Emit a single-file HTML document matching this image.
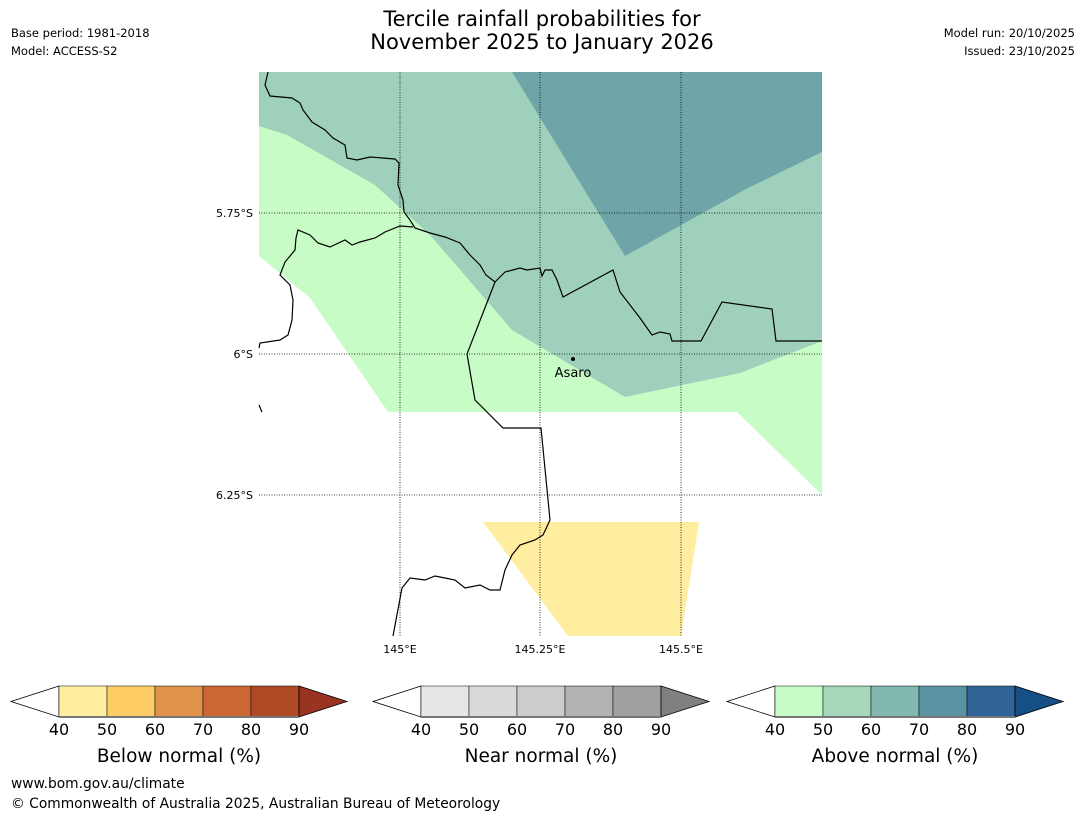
<!DOCTYPE html>
<html><head><meta charset="utf-8"><style>
html,body{margin:0;padding:0;background:#fff;}
body{width:1085px;height:816px;overflow:hidden;font-family:"DejaVu Sans","Liberation Sans",sans-serif;}
</style></head><body>
<svg id="fig" width="1085" height="816" viewBox="0 0 1085 816" xmlns="http://www.w3.org/2000/svg" font-family="DejaVu Sans, Liberation Sans, sans-serif">
<text x="542" y="26" text-anchor="middle" font-size="21" fill="#000">Tercile rainfall probabilities for</text>
<text x="542" y="49" text-anchor="middle" font-size="21" fill="#000">November 2025 to January 2026</text>
<text x="11" y="37" font-size="11.5">Base period: 1981-2018</text>
<text x="11" y="55" font-size="11.5">Model: ACCESS-S2</text>
<text x="1075" y="37" font-size="11.5" text-anchor="end">Model run: 20/10/2025</text>
<text x="1075" y="55" font-size="11.5" text-anchor="end">Issued: 23/10/2025</text>

<g id="map">
<polygon fill="#c7fcc7" points="259,72 822,72 822,495 737,412 388,412 310,298 259,256"/>
<polygon fill="#9fd0bb" points="259,72 822,72 822,341 740,373 625,397 512,330 430,235 375,185 287,135 259,126"/>
<polygon fill="#6fa5a8" points="512,72 822,72 822,152 748,188 625,256"/>
<polygon fill="#ffeda0" points="483,522 699,522 681,636 568,636"/>
<g stroke="#000" stroke-width="0.8" stroke-dasharray="1,1.5">
<line x1="400" y1="72" x2="400" y2="636"/><line x1="540" y1="72" x2="540" y2="636"/><line x1="681" y1="72" x2="681" y2="636"/>
<line x1="259" y1="213" x2="822" y2="213"/><line x1="259" y1="354" x2="822" y2="354"/><line x1="259" y1="495" x2="822" y2="495"/>
</g>
<g fill="none" stroke="#000" stroke-width="1.2">
<polyline points="268,72 265,85 270,96 292,98 300,103 303,110 312,122 325,130 333,138 345,145 347,158 357,160 370,157 395,159 399,163 398,185 403,200 404,212 410,220 415,228 430,233 445,237 460,243 470,255 480,265 486,275 495,282 505,272 520,268 527,270 540,268 542,276 545,270 552,270 557,280 563,297 613,270 620,292 640,318 652,335 660,332 670,334 672,341 701,341 722,302 772,309 776,341 822,341"/>
<polyline points="413,227 400,226 385,232 375,238 360,242 352,245 345,240 330,247 318,243 310,235 298,230 296,238 295,250 285,262 280,275 290,285 293,300 292,320 288,335 280,340 260,343 259,348"/>
<polyline points="259,405 262,412"/>
<polyline points="495,282 467,354 475,400 503,428 541,428 550,520 543,535 535,540 520,545 512,555 505,570 500,590 490,590 480,585 465,588 455,580 445,578 435,576 425,580 410,578 402,588 393,636"/>
</g>
<circle cx="573" cy="359" r="2" fill="#000"/>
<text x="573" y="377" text-anchor="middle" font-size="13">Asaro</text>
<g font-size="11">
<text x="253" y="217" text-anchor="end">5.75°S</text>
<text x="253" y="358" text-anchor="end">6°S</text>
<text x="253" y="499" text-anchor="end">6.25°S</text>
<text x="400" y="653" text-anchor="middle">145°E</text>
<text x="540" y="653" text-anchor="middle">145.25°E</text>
<text x="681" y="653" text-anchor="middle">145.5°E</text>
</g>
</g>
<g id="cbars"></g>
<text x="11" y="788" font-size="13.8">www.bom.gov.au/climate</text>
<text x="11" y="808" font-size="13.8">© Commonwealth of Australia 2025, Australian Bureau of Meteorology</text>
</svg>
<script>
const tickLabels = [40, 50, 60, 70, 80, 90];
const barTitles = ["Below normal (%)", "Near normal (%)", "Above normal (%)"];
const belowColors = ["#ffeda0","#fecc65","#e0924a","#cc6633","#b04a26","#993322"];
const nearColors = ["#e6e6e6","#d9d9d9","#cccccc","#b3b3b3","#a0a0a0","#808080"];
const aboveColors = ["#c7fcc7","#a6d8bc","#82b8b0","#5b93a2","#306496","#164f85"];
const barStarts = [59, 421, 775];
const NS = "http://www.w3.org/2000/svg";
const g = document.getElementById("cbars");
const palettes = [belowColors, nearColors, aboveColors];
const names = ["below", "near", "above"];
function mk(tag, attrs, parent) { const e = document.createElementNS(NS, tag); for (const k in attrs) e.setAttribute(k, attrs[k]); parent.appendChild(e); return e; }
palettes.forEach((cols, i) => {
  const x0 = barStarts[i], y0 = 686, h = 31, segW = 48;
  const bar = mk("g", {}, g);
  
  
  const xEnd = x0 + segW * (tickLabels.length - 1);
  const lt = mk("polygon", {points: `${x0},${y0} ${x0-48},${y0+h/2} ${x0},${y0+h}`, fill: "#fff", stroke: "#000", "stroke-width": 0.8}, bar);
  
  
  for (let k = 0; k < tickLabels.length - 1; k++) {
    const r = mk("rect", {x: x0 + k*segW, y: y0, width: segW, height: h, fill: cols[k], stroke: "#000", "stroke-width": 0.5}, bar);
    
    
  }
  const rt = mk("polygon", {points: `${xEnd},${y0} ${xEnd+48},${y0+h/2} ${xEnd},${y0+h}`, fill: cols[5], stroke: "#000", "stroke-width": 0.8}, bar);
  
  
  mk("line", {x1: x0, y1: y0+h, x2: xEnd, y2: y0+h, stroke: "#777", "stroke-width": 2}, bar);
  tickLabels.forEach((t, k) => {
    const tx = mk("text", {x: x0 + k*segW, y: 735, "text-anchor": "middle", "font-size": 16}, bar);
    tx.textContent = t;
    
    
  });
  const ti = mk("text", {x: x0 + segW*2.5, y: 762, "text-anchor": "middle", "font-size": 18.5}, bar);
  ti.textContent = barTitles[i];
  
  
});
</script>
</body></html>
